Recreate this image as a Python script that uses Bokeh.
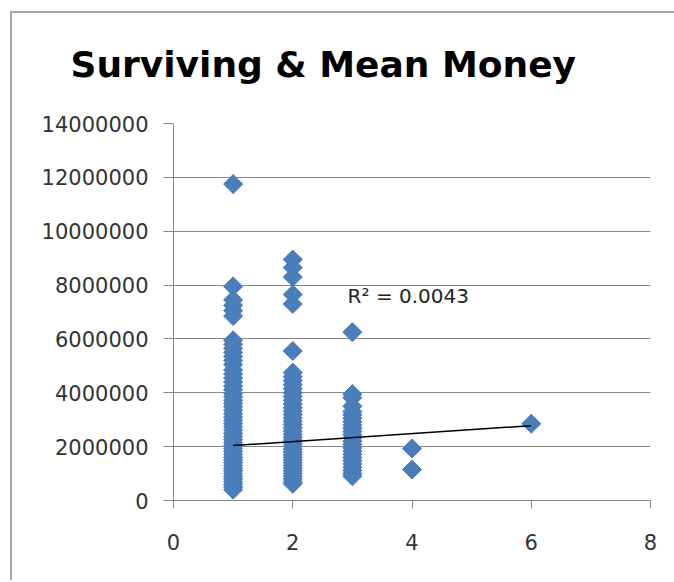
import math
from bokeh.plotting import figure
from bokeh.models import ColumnDataSource, Label, FixedTicker, Range1d, NumeralTickFormatter
from bokeh.embed import file_html
from bokeh.resources import INLINE

# ---- data (millions) ----
surv1_money = [11.75, 7.95, 7.45, 7.25, 7.05, 6.85, 5.95, 5.80, 5.65, 5.50, 5.35, 5.20,
               5.05, 4.85, 4.70, 4.55, 4.40, 4.25, 4.12, 3.98, 3.85, 3.72, 3.60, 3.48,
               3.35, 3.22, 3.10, 2.98, 2.86, 2.74, 2.62, 2.50, 2.38, 2.27, 2.15, 2.04,
               1.93, 1.82, 1.71, 1.60, 1.50, 1.40, 1.30, 1.20, 1.10, 1.00, 0.90, 0.80,
               0.70, 0.60, 0.50, 0.40]
surv2_money = [8.95, 8.65, 8.30, 7.65, 7.30, 5.55, 4.75, 4.60, 4.45, 4.30, 4.15, 4.00,
               3.86, 3.72, 3.58, 3.45, 3.32, 3.19, 3.06, 2.94, 2.82, 2.70, 2.58, 2.46,
               2.35, 2.24, 2.13, 2.02, 1.91, 1.80, 1.70, 1.60, 1.50, 1.40, 1.30, 1.20,
               1.10, 1.00, 0.90, 0.80, 0.70, 0.62]
surv3_money = [6.25, 3.95, 3.82, 3.50, 3.30, 3.18, 3.05, 2.92, 2.80, 2.68, 2.56, 2.44,
               2.32, 2.20, 2.08, 1.96, 1.84, 1.72, 1.60, 1.48, 1.36, 1.24, 1.12, 1.00, 0.90]
surv4_money = [1.93, 1.15]
surv6_money = [2.85]

trend_x = [1, 6]
trend_y = [2.04e6, 2.78e6]
r2_text = "R\u00b2 = 0.0043"
title_text = "Surviving & Mean Money"
x_ticks = [0, 2, 4, 6, 8]
y_ticks = [0, 2000000, 4000000, 6000000, 8000000, 10000000, 12000000, 14000000]

groups = [(1, surv1_money), (2, surv2_money), (3, surv3_money), (4, surv4_money), (6, surv6_money)]
xs, ys = [], []
for s, vals in groups:
    for v in vals:
        xs.append(s)
        ys.append(v * 1e6)
src = ColumnDataSource(dict(x=xs, y=ys))

p = figure(width=674, height=580, output_backend="svg", toolbar_location=None,
           x_range=Range1d(0, 8), y_range=Range1d(0, 14000000),
           min_border_left=173, min_border_right=24, min_border_top=123, min_border_bottom=80)
frame_css = ("linear-gradient(#a6a6a6,#a6a6a6) 10px 11px / 2px 100% no-repeat, "
             "linear-gradient(#a6a6a6,#a6a6a6) 10px 11px / 100% 2px no-repeat, #ffffff")
p.styles = {"background": frame_css}
p.outline_line_color = None
p.background_fill_color = "white"
p.border_fill_color = None

p.title.text = title_text
p.title.align = "left"
p.title.offset = -103
p.title.standoff = 77
p.title.text_font = "DejaVu Sans"
p.title.text_font_style = "bold"
p.title.text_font_size = "36px"
p.title.text_color = "black"

gray = "#8a8a8a"
p.xgrid.visible = False
p.ygrid.grid_line_color = gray
p.ygrid.grid_line_width = 1

for ax in (p.xaxis[0], p.yaxis[0]):
    ax.axis_line_color = gray
    ax.major_tick_line_color = gray
    ax.minor_tick_line_color = None
    ax.major_tick_in = 0
    ax.major_label_text_font = "DejaVu Sans"
    ax.major_label_text_font_size = "21px"
    ax.major_label_text_color = "#333333"

p.xaxis[0].ticker = FixedTicker(ticks=x_ticks)
p.xaxis[0].major_tick_out = 8
p.xaxis[0].major_label_standoff = 25
p.yaxis[0].ticker = FixedTicker(ticks=y_ticks)
p.yaxis[0].major_tick_out = 10
p.yaxis[0].major_label_standoff = 15
p.yaxis[0].formatter = NumeralTickFormatter(format="0")

p.scatter("x", "y", source=src, marker="square", size=13.5, angle=math.pi / 4,
          fill_color="#4a7ebb", line_color="#4a7ebb", line_width=1)

p.line(trend_x, trend_y, line_color="black", line_width=1.5)

p.add_layout(Label(x=2.92, y=7.61e6, text=r2_text, text_font="DejaVu Sans",
                   text_font_size="20px", text_color="#222222", text_baseline="alphabetic"))

open("out.html", "w").write(file_html(p, INLINE))
